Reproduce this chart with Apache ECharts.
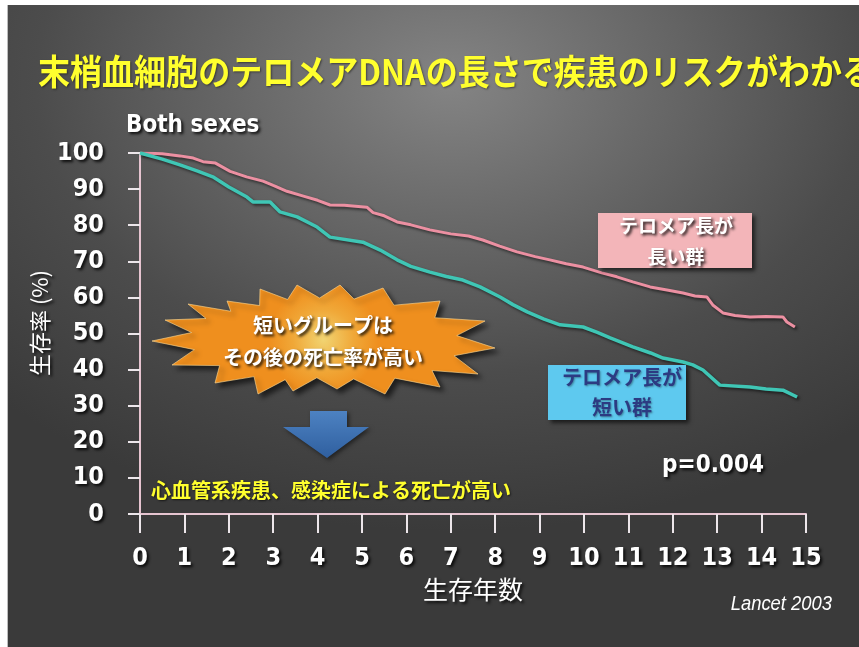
<!DOCTYPE html>
<html>
<head>
<meta charset="utf-8">
<script src="https://cdn.jsdelivr.net/npm/echarts@6/dist/echarts.min.js"></script>
<style>
  html, body { margin: 0; padding: 0; background: #ffffff; }
  #wrap { position: relative; width: 859px; height: 647px; overflow: hidden; }
  #bg {
    position: absolute; left: 7px; top: 5px; width: 852px; height: 642px;
    background: radial-gradient(ellipse 75% 70% at 52% 12%, #848484 0%, #6a6a6a 30%, #4c4c4c 65%, #3a3a3a 100%);
    border-left: 1px solid #bdbdbd;
  }
  #chart { position: absolute; left: 0; top: 0; width: 859px; height: 647px; }
</style>
</head>
<body>
<div id="wrap"><div id="bg"></div><div id="chart"></div></div>
<script>
// Survival (%) by years of follow-up, long-telomere group
const yearsLong = [0, 0.5, 0.9, 1.2, 1.42, 1.7, 2.03, 2.4, 2.77, 3.0, 3.31, 3.7, 4.0, 4.28, 4.6, 5.11, 5.25, 5.5, 5.79, 6.1, 6.53, 7.0, 7.4, 7.72, 8.1, 8.49, 8.9, 9.23, 9.6, 9.98, 10.4, 10.74, 11.1, 11.49, 11.9, 12.23, 12.5, 12.77, 12.9, 13.13, 13.4, 13.74, 14.1, 14.48, 14.57, 14.75];
const survLong  = [100, 99.8, 99.2, 98.6, 97.6, 97.2, 94.9, 93.4, 92.2, 91.0, 89.4, 88.0, 86.9, 85.6, 85.5, 85.0, 83.5, 82.6, 80.9, 80.1, 78.7, 77.6, 77.0, 75.9, 74.2, 72.6, 71.3, 70.4, 69.3, 68.4, 66.8, 65.7, 64.3, 62.9, 62.0, 61.2, 60.4, 60.1, 57.9, 55.7, 55.0, 54.6, 54.7, 54.6, 53.2, 51.8];

// Survival (%) by years of follow-up, short-telomere group
const yearsShort = [0, 0.5, 0.9, 1.3, 1.64, 2.0, 2.41, 2.55, 2.93, 3.15, 3.54, 3.99, 4.28, 5.02, 5.41, 5.79, 6.1, 6.53, 6.9, 7.27, 7.66, 8.11, 8.4, 8.72, 9.1, 9.46, 9.98, 10.3, 10.59, 11.1, 11.5, 11.78, 12.23, 12.45, 12.68, 13.06, 13.74, 14.1, 14.48, 14.8];
const survShort  = [100, 98.3, 96.7, 95.0, 93.4, 90.6, 87.8, 86.4, 86.4, 83.7, 82.3, 79.5, 76.7, 75.3, 73.1, 70.4, 68.6, 67.0, 65.8, 64.8, 62.9, 60.1, 58.0, 56.0, 54.0, 52.4, 51.8, 50.3, 48.8, 46.3, 44.6, 43.2, 42.1, 41.3, 39.9, 35.7, 35.2, 34.6, 34.3, 32.4];

// Axis ticks
const xTicks = [0, 15, 1];    // min, max, step (years)
const yTicks = [0, 100, 10];  // min, max, step (%)

const zip = (xs, ys) => xs.map((x, i) => [x, ys[i]]);

const condensed = "'Liberation Sans Narrow', 'DejaVu Sans Condensed', 'Liberation Sans', sans-serif";
const jp = "'Noto Sans CJK JP', 'Noto Sans', sans-serif";
const shadowText = { textShadowColor: 'rgba(0,0,0,0.85)', textShadowBlur: 3, textShadowOffsetX: 2, textShadowOffsetY: 2 };

// Outline of the orange burst: spike tips, with valleys pulled toward the centre
const burstTips = [[152,341],[165,320],[188,304],[227,301],[260,289],[297,285],[340,285],[383,288],[440,301],[485,321],[495,348],[478,374],[440,387],[385,394],[337,389],[293,391],[258,394],[215,383],[172,365]];
const burstCenter = [324, 339];
const burstPoints = [];
burstTips.forEach((p, i) => {
  const q = burstTips[(i + 1) % burstTips.length];
  burstPoints.push(p);
  const mx = (p[0] + q[0]) / 2, my = (p[1] + q[1]) / 2;
  burstPoints.push([burstCenter[0] + 0.8 * (mx - burstCenter[0]), burstCenter[1] + 0.76 * (my - burstCenter[1])]);
});

function txt(text, x, y, size, color, opts) {
  opts = opts || {};
  const el = {
    type: 'text', x: x, y: y, z: 20,
    style: Object.assign({
      text: text, fill: color,
      font: (opts.weight || 'bold') + ' ' + size + 'px ' + (opts.family || jp),
      align: opts.align || 'center', verticalAlign: 'middle',
      textShadowColor: opts.noShadow ? 'transparent' : 'rgba(0,0,0,0.85)',
      textShadowBlur: 3, textShadowOffsetX: 2, textShadowOffsetY: 2
    }, opts.style || {})
  };
  if (opts.scaleX) el.scaleX = opts.scaleX;
  if (opts.rotation) el.rotation = opts.rotation;
  return el;
}

const chart = echarts.init(document.getElementById('chart'), null, { renderer: 'canvas' });
chart.setOption({
  backgroundColor: 'transparent',
  animation: false,
  grid: { left: 140, right: 53, top: 153, bottom: 133, containLabel: false },
  xAxis: {
    type: 'value', min: xTicks[0], max: xTicks[1], interval: xTicks[2],
    offset: 9,
    name: '生存年数', nameLocation: 'middle', nameGap: 54,
    nameTextStyle: Object.assign({ color: '#ffffff', fontSize: 25, fontFamily: jp }, shadowText),
    axisLine: { show: true, lineStyle: { color: '#e6c4d0', width: 2 } },
    axisTick: { show: true, length: 19, lineStyle: { color: '#ece6ea', width: 2 } },
    axisLabel: Object.assign({ color: '#ffffff', fontSize: 25, fontWeight: 'bold', fontFamily: condensed, margin: 23 }, shadowText),
    splitLine: { show: false }
  },
  yAxis: {
    type: 'value', min: yTicks[0], max: yTicks[1], interval: yTicks[2],
    offset: 15,
    axisLine: { show: true, lineStyle: { color: '#e6c4d0', width: 2 } },
    axisTick: { show: true, length: 12, lineStyle: { color: '#ece6ea', width: 2 } },
    axisLabel: Object.assign({ color: '#ffffff', fontSize: 25, fontWeight: 'bold', fontFamily: condensed, margin: 21 }, shadowText),
    splitLine: { show: false }
  },
  series: [
    {
      name: 'テロメア長が長い群', type: 'line', data: zip(yearsLong, survLong),
      showSymbol: false, smooth: false, z: 5,
      lineStyle: { color: '#ec90a2', width: 3, shadowColor: 'rgba(0,0,0,0.55)', shadowBlur: 3, shadowOffsetX: 2, shadowOffsetY: 2 }
    },
    {
      name: 'テロメア長が短い群', type: 'line', data: zip(yearsShort, survShort),
      showSymbol: false, smooth: false, z: 5,
      lineStyle: { color: '#3fc6b5', width: 3.5, shadowColor: 'rgba(0,0,0,0.55)', shadowBlur: 3, shadowOffsetX: 2, shadowOffsetY: 2 }
    }
  ],
  graphic: [
    txt('末梢血細胞のテロメアDNAの長さで疾患のリスクがわかる', 38, 72, 35, '#ffff2e', {
      align: 'left', scaleX: 0.915,
      style: { textShadowColor: 'rgba(0,0,0,0.45)', textShadowBlur: 2, textShadowOffsetX: 1, textShadowOffsetY: 1 }
    }),
    txt('Both sexes', 126, 126, 24, '#ffffff', { family: condensed, align: 'left' }),
    txt('生存率 (%)', 40, 323, 22, '#ffffff', { weight: 'normal', rotation: Math.PI / 2 }),
    // long-group box
    { type: 'rect', z: 10, shape: { x: 598, y: 213, width: 154, height: 55 },
      style: { fill: '#f3b5b9', shadowColor: 'rgba(0,0,0,0.6)', shadowBlur: 4, shadowOffsetX: 3, shadowOffsetY: 3 } },
    txt('テロメア長が', 676, 226, 19, '#ffffff'),
    txt('長い群', 676, 257, 19, '#ffffff'),
    // short-group box
    { type: 'rect', z: 10, shape: { x: 548, y: 365, width: 138, height: 55 },
      style: { fill: '#5ec9ef', shadowColor: 'rgba(0,0,0,0.6)', shadowBlur: 4, shadowOffsetX: 3, shadowOffsetY: 3 } },
    txt('テロメア長が', 622, 377, 20, '#2c3b82', { style: { textShadowColor: 'rgba(0,0,0,0.35)', textShadowBlur: 2, textShadowOffsetX: 1, textShadowOffsetY: 1 } }),
    txt('短い群', 622, 407, 20, '#2c3b82', { style: { textShadowColor: 'rgba(0,0,0,0.35)', textShadowBlur: 2, textShadowOffsetX: 1, textShadowOffsetY: 1 } }),
    // orange burst
    { type: 'polygon', z: 10, shape: { points: burstPoints },
      style: {
        fill: new echarts.graphic.RadialGradient(0.5, 0.5, 0.5, [
          { offset: 0, color: '#f1d472' }, { offset: 0.55, color: '#f0a838' }, { offset: 1, color: '#ef8f1e' }
        ]),
        stroke: 'rgba(255,220,150,0.6)', lineWidth: 1,
        shadowColor: 'rgba(0,0,0,0.6)', shadowBlur: 5, shadowOffsetX: 4, shadowOffsetY: 4
      } },
    txt('短いグループは', 323, 325, 20, '#ffffff'),
    txt('その後の死亡率が高い', 323, 357, 20, '#ffffff'),
    // down arrow
    { type: 'polygon', z: 10,
      shape: { points: [[310,411],[347,411],[347,427],[369,427],[327,458],[283,427],[310,427]] },
      style: {
        fill: new echarts.graphic.LinearGradient(0, 0, 0, 1, [
          { offset: 0, color: '#4d82c2' }, { offset: 1, color: '#2f5f9f' }
        ]),
        shadowColor: 'rgba(0,0,0,0.5)', shadowBlur: 4, shadowOffsetX: 2, shadowOffsetY: 2
      } },
    txt('心血管系疾患、感染症による死亡が高い', 331, 490, 20, '#ffff2e', { style: { textShadowColor: 'rgba(0,0,0,0.6)', textShadowBlur: 2, textShadowOffsetX: 1, textShadowOffsetY: 1 } }),
    txt('p=0.004', 713, 466, 24, '#ffffff', { family: condensed }),
    txt('Lancet 2003', 832, 604, 20, '#ffffff', { family: "'Liberation Sans Narrow', 'Liberation Sans', sans-serif", weight: 'italic', align: 'right', noShadow: true, scaleX: 0.92 })
  ]
});
</script>
</body>
</html>
